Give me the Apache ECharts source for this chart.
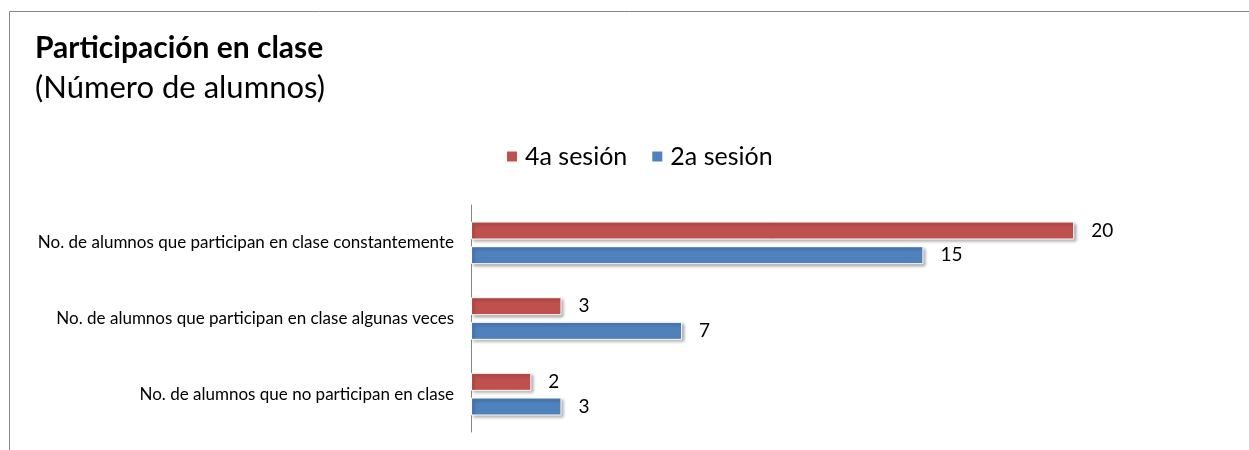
<!DOCTYPE html>
<html>
<head>
<meta charset="utf-8">
<script src="https://cdn.jsdelivr.net/npm/echarts@6/dist/echarts.min.js"></script>
<style>
html,body{margin:0;padding:0;background:#fff;}
#chart{width:1249px;height:450px;}
</style>
</head>
<body>
<div id="chart"></div>
<script>
const categories = [
  "No. de alumnos que participan en clase constantemente",
  "No. de alumnos que participan en clase algunas veces",
  "No. de alumnos que no participan en clase"
];
const seriesNames = ["4a sesión", "2a sesión"];
const sesion4 = [20, 3, 2];
const sesion2 = [15, 7, 3];
const titleText = "Participación en clase";
const subtitleText = "(Número de alumnos)";

const FONT = "Lato";
const chart = echarts.init(document.getElementById('chart'), null, {renderer: 'canvas'});

const barStyle = (color) => ({
  color: color,
  borderColor: '#ffffff',
  borderWidth: 1,
  shadowColor: 'rgba(0,0,0,0.35)',
  shadowBlur: 3,
  shadowOffsetX: 2,
  shadowOffsetY: 2
});

chart.setOption({
  animation: false,
  backgroundColor: '#ffffff',
  textStyle: {fontFamily: FONT},
  graphic: [{
    type: 'rect',
    shape: {x: 9.5, y: 11.5, width: 1400, height: 600},
    style: {fill: 'none', stroke: '#878787', lineWidth: 1},
    silent: true
  }],
  title: {
    text: titleText,
    subtext: subtitleText,
    left: 30,
    top: 28,
    itemGap: 9,
    textStyle: {fontFamily: FONT, fontSize: 30, fontWeight: 'bold', color: '#000'},
    subtextStyle: {fontFamily: FONT, fontSize: 31, color: '#000'}
  },
  legend: {
    data: seriesNames,
    top: 139,
    left: 500,
    itemWidth: 12,
    itemHeight: 12,
    itemGap: 23,
    icon: 'rect',
    textStyle: {fontFamily: FONT, fontSize: 25, color: '#000', padding: [0, 0, 0, 2]}
  },
  grid: {left: 471, right: 24, top: 205, bottom: 18, containLabel: false},
  xAxis: {
    type: 'value',
    min: 0,
    max: 25,
    show: false
  },
  yAxis: {
    type: 'category',
    data: categories,
    inverse: true,
    axisLine: {show: true, lineStyle: {color: '#868686', width: 1}},
    axisTick: {show: false},
    axisLabel: {fontFamily: FONT, fontSize: 17, color: '#000', margin: 17}
  },
  series: [
    {
      name: seriesNames[0],
      type: 'bar',
      data: sesion4,
      barWidth: 18,
      barGap: '37%',
      itemStyle: barStyle('#C0504D'),
      label: {show: true, position: 'right', distance: 17, fontFamily: FONT, fontSize: 19, color: '#000'}
    },
    {
      name: seriesNames[1],
      type: 'bar',
      data: sesion2,
      barWidth: 18,
      barGap: '37%',
      itemStyle: barStyle('#4F81BD'),
      label: {show: true, position: 'right', distance: 17, fontFamily: FONT, fontSize: 19, color: '#000'}
    }
  ]
});
</script>
</body>
</html>
